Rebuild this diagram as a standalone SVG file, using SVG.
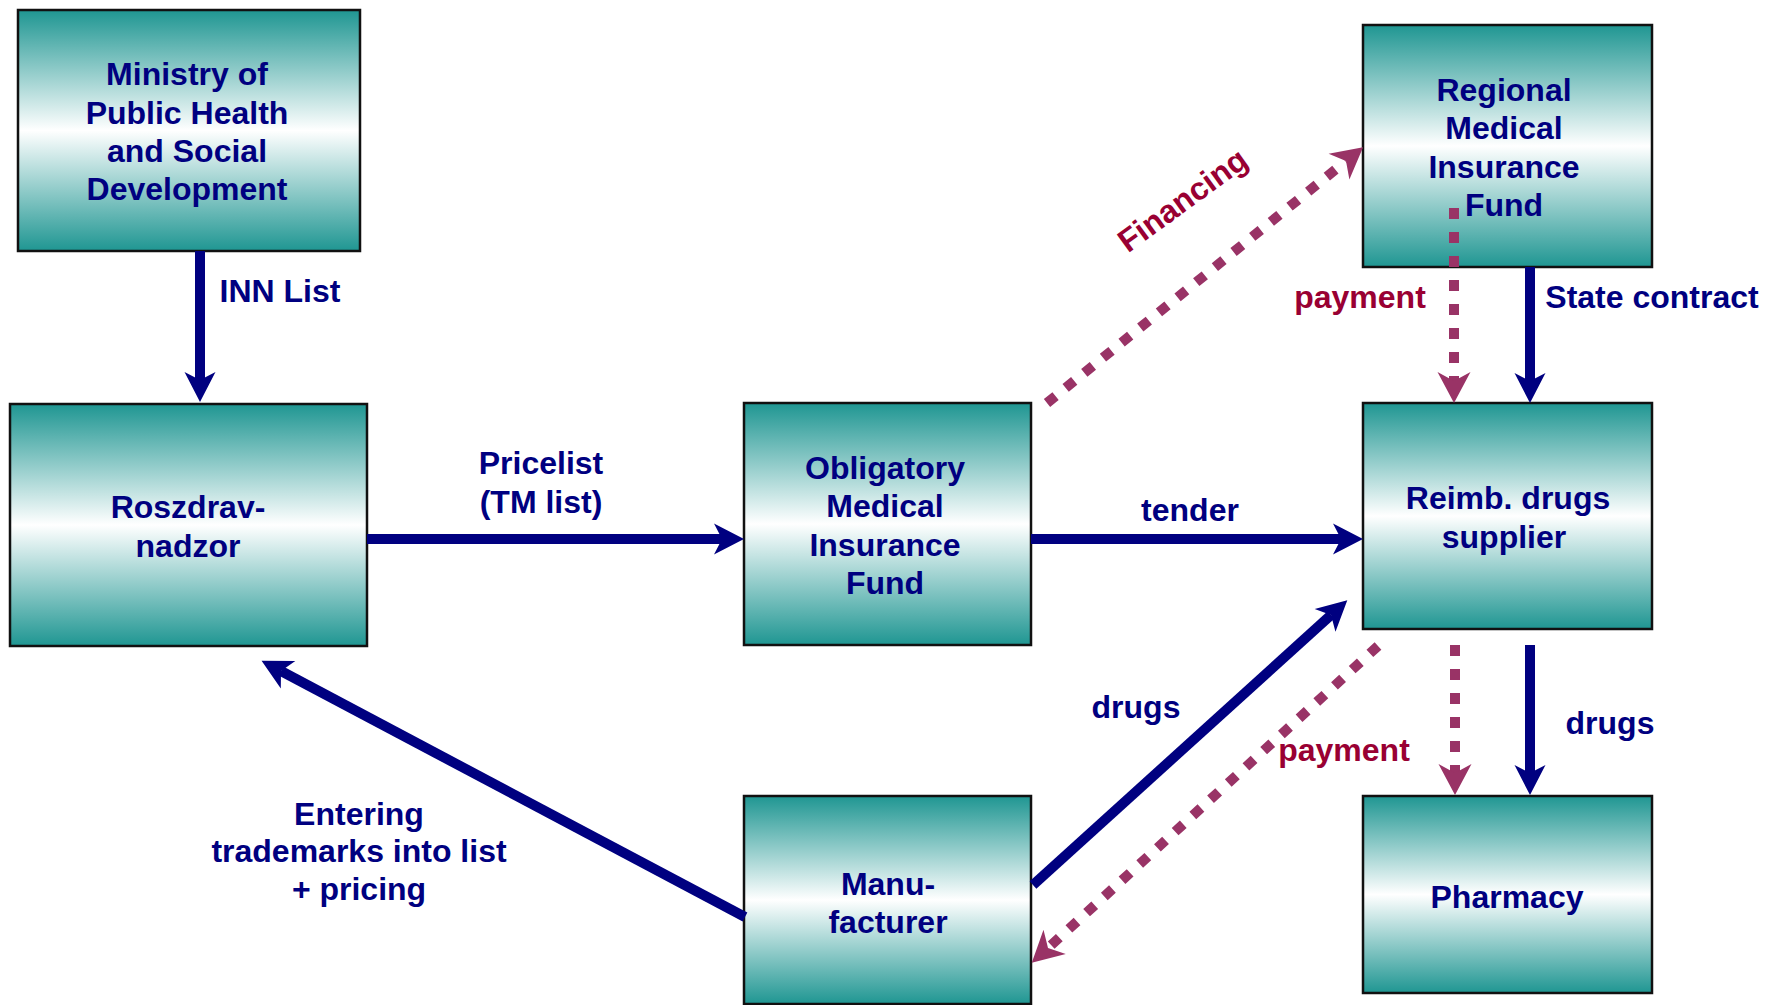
<svg xmlns="http://www.w3.org/2000/svg" width="1780" height="1005" viewBox="0 0 1780 1005">
<defs>
<linearGradient id="teal" x1="0" y1="0" x2="0" y2="1">
<stop offset="0" stop-color="#1f9692"/>
<stop offset="0.5" stop-color="#ffffff"/>
<stop offset="1" stop-color="#1f9692"/>
</linearGradient>
<marker id="navyHead" markerUnits="userSpaceOnUse" markerWidth="40" markerHeight="40" viewBox="-10 -20 40 40" refX="0" refY="0" orient="auto">
<path d="M22,0 L-8,-15.5 L0,0 L-8,15.5 Z" fill="#000080"/>
</marker>
<marker id="redHead" markerUnits="userSpaceOnUse" markerWidth="40" markerHeight="40" viewBox="-10 -20 40 40" refX="0" refY="0" orient="auto">
<path d="M22,0 L-9,-16.5 L0,0 L-9,16.5 Z" fill="#993366"/>
</marker>
</defs>
<style>
.box{fill:url(#teal);stroke:#111;stroke-width:2.5}
.t{font-family:"Liberation Sans",Arial,sans-serif;font-weight:bold;font-size:32px;fill:#000080;text-anchor:middle}
.r{fill:#990033}
.nav{stroke:#000080;stroke-width:10;fill:none;marker-end:url(#navyHead)}
.dot{stroke:#993366;stroke-width:10;fill:none;stroke-dasharray:11 13;marker-end:url(#redHead)}
</style>
<rect width="1780" height="1005" fill="#ffffff"/>

<g id="ministry">
<rect class="box" x="18" y="10" width="342" height="241"/>
<text class="t" x="187" y="85">Ministry of</text>
<text class="t" x="187" y="124">Public Health</text>
<text class="t" x="187" y="162">and Social</text>
<text class="t" x="187" y="200">Development</text>
</g>

<g id="roszdravnadzor">
<rect class="box" x="10" y="404" width="357" height="242"/>
<text class="t" x="188" y="518">Roszdrav-</text>
<text class="t" x="188" y="557">nadzor</text>
</g>

<g id="omif">
<rect class="box" x="744" y="403" width="287" height="242"/>
<text class="t" x="885" y="479">Obligatory</text>
<text class="t" x="885" y="517">Medical</text>
<text class="t" x="885" y="556">Insurance</text>
<text class="t" x="885" y="594">Fund</text>
</g>

<g id="rmif">
<rect class="box" x="1363" y="25" width="289" height="242"/>
<text class="t" x="1504" y="101">Regional</text>
<text class="t" x="1504" y="139">Medical</text>
<text class="t" x="1504" y="178">Insurance</text>
<text class="t" x="1504" y="216">Fund</text>
</g>

<g id="supplier">
<rect class="box" x="1363" y="403" width="289" height="226"/>
<text class="t" x="1508" y="509">Reimb. drugs</text>
<text class="t" x="1504" y="548">supplier</text>
</g>

<g id="manufacturer">
<rect class="box" x="744" y="796" width="287" height="208"/>
<text class="t" x="888" y="895">Manu-</text>
<text class="t" x="888" y="933">facturer</text>
</g>

<g id="pharmacy">
<rect class="box" x="1363" y="796" width="289" height="197"/>
<text class="t" x="1507" y="908">Pharmacy</text>
</g>

<g id="connectors">
<line class="nav" x1="200" y1="251" x2="200" y2="380"/>
<line class="nav" x1="367" y1="539" x2="722" y2="539"/>
<line class="nav" x1="1031" y1="539" x2="1341" y2="539"/>
<line class="nav" x1="1530" y1="267" x2="1530" y2="381"/>
<line class="nav" x1="1530" y1="645" x2="1530" y2="773"/>
<line class="nav" x1="1033" y1="885" x2="1331" y2="615"/>
<line class="nav" x1="745" y1="917" x2="281" y2="671"/>
<line class="dot" x1="1454" y1="208" x2="1454" y2="381"/>
<line class="dot" x1="1455" y1="645" x2="1455" y2="773"/>
<line class="dot" x1="1047" y1="403" x2="1346" y2="161"/>
<line class="dot" x1="1378" y1="646" x2="1048" y2="948"/>
<text class="t" x="280" y="302">INN List</text>
<text class="t" x="541" y="474">Pricelist</text>
<text class="t" x="541" y="513">(TM list)</text>
<text class="t" x="1190" y="521">tender</text>
<text class="t" x="1652" y="308">State contract</text>
<text class="t r" x="1360" y="308">payment</text>
<text class="t r" x="1344" y="761">payment</text>
<text class="t" x="1136" y="718">drugs</text>
<text class="t" x="1610" y="734">drugs</text>
<text class="t" x="359" y="825">Entering</text>
<text class="t" x="359" y="862">trademarks into list</text>
<text class="t" x="359" y="900">+ pricing</text>
<text class="t r" transform="translate(1189,209) rotate(-36)">Financing</text>
</g>
</svg>
